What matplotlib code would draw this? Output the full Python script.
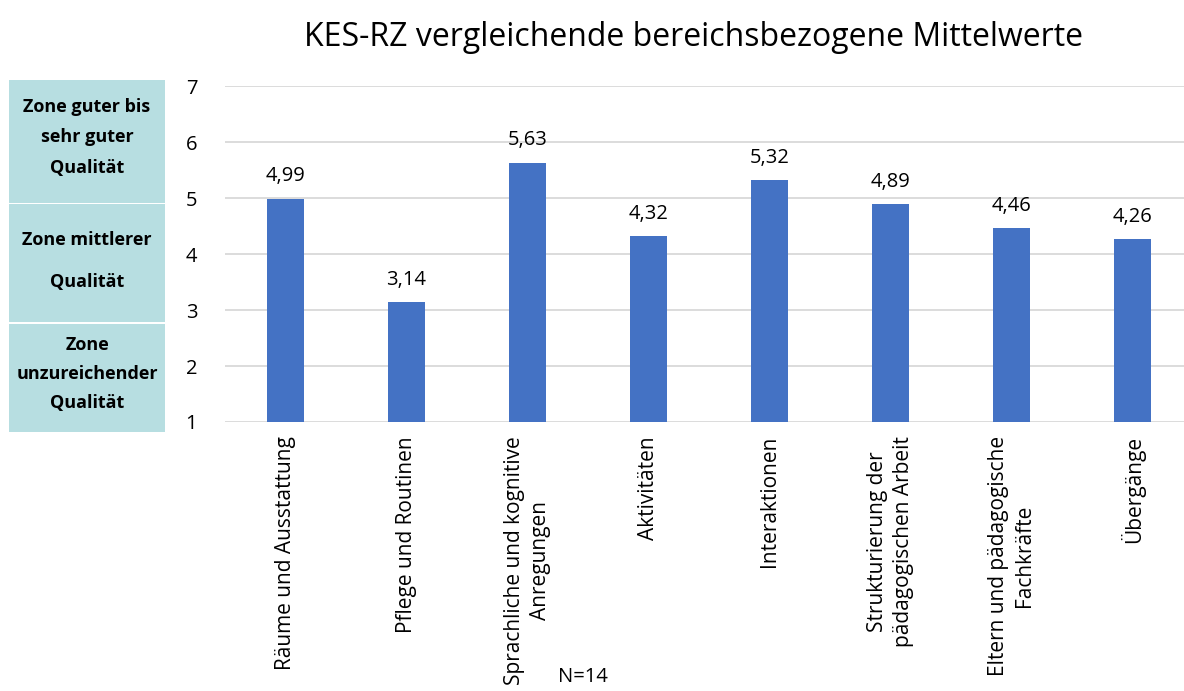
import matplotlib
matplotlib.use("Agg")
import matplotlib.pyplot as plt
from matplotlib.patches import Rectangle

categories = [
    "Räume und Ausstattung",
    "Pflege und Routinen",
    "Sprachliche und kognitive\nAnregungen",
    "Aktivitäten",
    "Interaktionen",
    "Strukturierung der\npädagogischen Arbeit",
    "Eltern und pädagogische\nFachkräfte",
    "Übergänge",
]
values = [4.99, 3.14, 5.63, 4.32, 5.32, 4.89, 4.46, 4.26]
y_ticks = [1, 2, 3, 4, 5, 6, 7]
zone_labels = [
    "Zone guter bis\nsehr guter\nQualität",
    "Zone mittlerer\nQualität",
    "Zone\nunzureichender\nQualität",
]

plt.rcParams['font.family'] = ['Open Sans', 'DejaVu Sans']

W, H = 1184, 691
fig = plt.figure(figsize=(W / 100, H / 100), dpi=100)

# plot area in pixel coordinates
left, right, top, bottom = 225, 1193, 86, 422
ax = fig.add_axes([left / W, 1 - bottom / H, (right - left) / W, (bottom - top) / H])

x = list(range(len(categories)))
ax.bar(x, values, width=0.31, color='#4472C4', zorder=3)
for xi, v in zip(x, values):
    ax.annotate(f"{v:.2f}".replace('.', ','), (xi, v), xytext=(0, 9),
                textcoords='offset points', ha='center', va='bottom',
                fontsize=14.5, color='#000000')

ax.set_xlim(-0.5, len(categories) - 0.5)
ax.set_ylim(1, 7)
ax.set_yticks(y_ticks)
ax.set_yticklabels([str(t) for t in y_ticks], fontsize=14.5)
ax.set_xticks(x)
ax.set_xticklabels(categories, rotation=90, fontsize=15, ha='center', va='top',
                   multialignment='center', linespacing=1.35)
ax.tick_params(axis='both', length=0)
ax.tick_params(axis='y', pad=20)
ax.tick_params(axis='x', pad=10)
ax.grid(axis='y', color='#D9D9D9', linewidth=1.3, zorder=0)
for s in ax.spines.values():
    s.set_visible(False)

fig.text(693 / W, 1 - 37 / H, "KES-RZ vergleichende bereichsbezogene Mittelwerte",
         ha='center', va='center', fontsize=23)
fig.text(583 / W, 1 - 677 / H, "N=14", ha='center', va='center', fontsize=14.5)

# zone boxes on the left
zone_boxes = [(80, 203), (204, 322), (324, 432)]
zone_spacing = [1.9, 2.7, 1.8]
zone_offset = [-4, -2, -4]
for (y0, y1), lab, ls, off in zip(zone_boxes, zone_labels, zone_spacing, zone_offset):
    fig.patches.append(Rectangle((9 / W, 1 - y1 / H), (165 - 9) / W, (y1 - y0) / H,
                                 transform=fig.transFigure, facecolor='#B7DEE1',
                                 edgecolor='none'))
    fig.text(87 / W, 1 - ((y0 + y1) / 2 + off) / H, lab, ha='center', va='center',
             fontsize=13, fontweight='bold', linespacing=ls)

fig.savefig("out.png", dpi=100)
